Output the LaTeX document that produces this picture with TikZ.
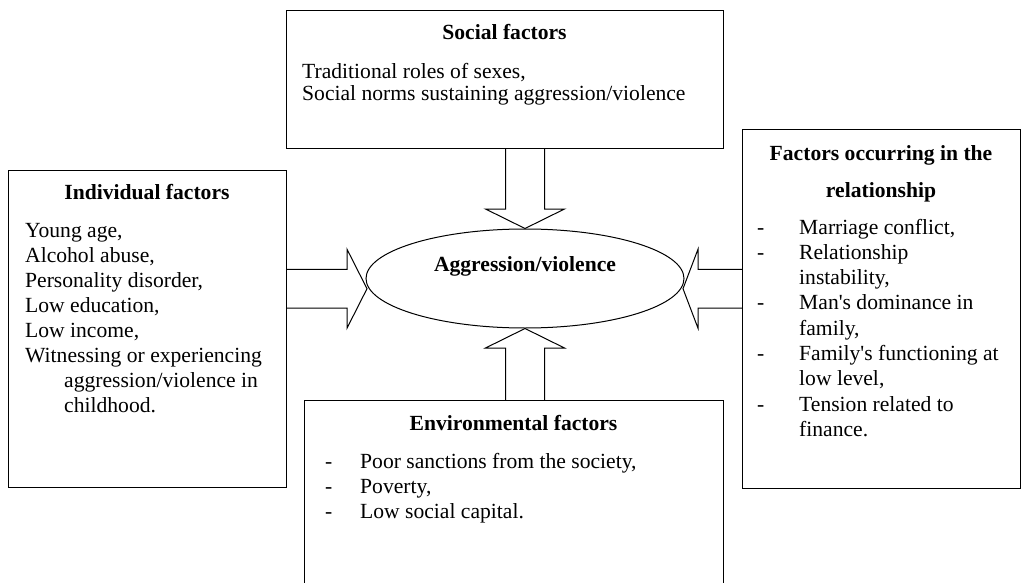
\documentclass[tikz,border=0pt]{standalone}
\usepackage{fontspec}
\setmainfont{Liberation Serif}[Ligatures=TeXOff]
\usetikzlibrary{calc,shapes.geometric}
\begin{document}
\begin{tikzpicture}[x=1pt,y=-1pt,
  box/.style={draw,line width=1.2pt,rectangle,inner sep=0pt,anchor=north west},
  txt/.style={anchor=base west,inner sep=0pt,font=\fontsize{21.6}{25.2}\selectfont},
  ttl/.style={anchor=base,inner sep=0pt,font=\fontsize{21.6}{25.2}\selectfont\bfseries},
  barrow/.style={draw,line width=1pt,line join=miter}]
\useasboundingbox (0,0) rectangle (1022,583);
\clip (0,0) rectangle (1022,583);

% boxes
\node[box,minimum width=437pt,minimum height=138pt] (soc) at (286,10) {};
\node[box,minimum width=278pt,minimum height=317pt] (ind) at (8,170) {};
\node[box,minimum width=278pt,minimum height=359pt] (rel) at (742,129) {};
\node[box,minimum width=419pt,minimum height=200pt] (env) at (304,400) {};
\node[draw,ellipse,line width=1pt,minimum width=318pt,minimum height=99pt,inner sep=0pt] (agg) at (525,278.5) {};

% social
\node[ttl] (socT) at (504.5,39.5) {Social factors};
\node[txt] (soc1) at (302,79) {Traditional roles of sexes,};
\node[txt] (soc2) at (302,100.7) {Social norms sustaining aggression/violence};

% individual
\node[ttl] (indT) at (147,199) {Individual factors};
\node[txt] (ind1) at (25,237) {Young age,};
\node[txt] (ind2) at (25,262.1) {Alcohol abuse,};
\node[txt] (ind3) at (25,287.2) {Personality disorder,};
\node[txt] (ind4) at (25,312.3) {Low education,};
\node[txt] (ind5) at (25,337.4) {Low income,};
\node[txt] (ind6) at (25,362.5) {Witnessing or experiencing};
\node[txt] (ind7) at (64,387.6) {aggression/violence in};
\node[txt] (ind8) at (64,412.7) {childhood.};

% relationship
\node[ttl] (relT1) at (881,160) {Factors occurring in the};
\node[ttl] (relT2) at (881,197) {relationship};
\node[txt] (relD1) at (757,234) {-};
\node[txt] (relD2) at (757,259.3) {-};
\node[txt] (relD3) at (757,309.9) {-};
\node[txt] (relD4) at (757,360.5) {-};
\node[txt] (relD5) at (757,411.1) {-};
\node[txt] (rel1) at (799,234) {Marriage conflict,};
\node[txt] (rel2) at (799,259.3) {Relationship};
\node[txt] (rel3) at (799,284.6) {instability,};
\node[txt] (rel4) at (799,309.9) {Man's dominance in};
\node[txt] (rel5) at (799,335.2) {family,};
\node[txt] (rel6) at (799,360.5) {Family's functioning at};
\node[txt] (rel7) at (799,385.8) {low level,};
\node[txt] (rel8) at (799,411.1) {Tension related to};
\node[txt] (rel9) at (799,436.4) {finance.};

% environmental
\node[ttl] (envT) at (513.5,430) {Environmental factors};
\node[txt] (envD1) at (325,468.3) {-};
\node[txt] (envD2) at (325,493.4) {-};
\node[txt] (envD3) at (325,518.5) {-};
\node[txt] (env1) at (360,468.3) {Poor sanctions from the society,};
\node[txt] (env2) at (360,493.4) {Poverty,};
\node[txt] (env3) at (360,518.5) {Low social capital.};

% centre
\node[ttl] (aggT) at (525,271.5) {Aggression/violence};

% block arrows
\coordinate (tT) at (agg.north);
\coordinate (tB) at (agg.north |- soc.south);
\draw[barrow] ($(tB)+(-19.5,0)$) -- ($(tT)+(-19.5,-19.5)$) -- ($(tT)+(-39.5,-19.5)$) -- (tT)
  -- ($(tT)+(39.5,-19.5)$) -- ($(tT)+(19.5,-19.5)$) -- ($(tB)+(19.5,0)$);

\coordinate (bT) at (agg.south);
\coordinate (bB) at (agg.south |- env.north);
\draw[barrow] ($(bB)+(-19.5,0)$) -- ($(bT)+(-19.5,19.5)$) -- ($(bT)+(-39.5,19.5)$) -- (bT)
  -- ($(bT)+(39.5,19.5)$) -- ($(bT)+(19.5,19.5)$) -- ($(bB)+(19.5,0)$);

\coordinate (lT) at ($(agg.west)+(1.5,10.2)$);
\coordinate (lB) at (lT -| ind.east);
\draw[barrow] ($(lB)+(0,-19.4)$) -- ($(lT)+(-20,-19.4)$) -- ($(lT)+(-20,-39.5)$) -- (lT)
  -- ($(lT)+(-20,39.5)$) -- ($(lT)+(-20,19.4)$) -- ($(lB)+(0,19.4)$);

\coordinate (rT) at ($(agg.east)+(-1.5,10.2)$);
\coordinate (rB) at (rT -| rel.west);
\draw[barrow] ($(rB)+(0,-19.4)$) -- ($(rT)+(15,-19.4)$) -- ($(rT)+(15,-39.5)$) -- (rT)
  -- ($(rT)+(15,39.5)$) -- ($(rT)+(15,19.4)$) -- ($(rB)+(0,19.4)$);
\end{tikzpicture}
\end{document}
